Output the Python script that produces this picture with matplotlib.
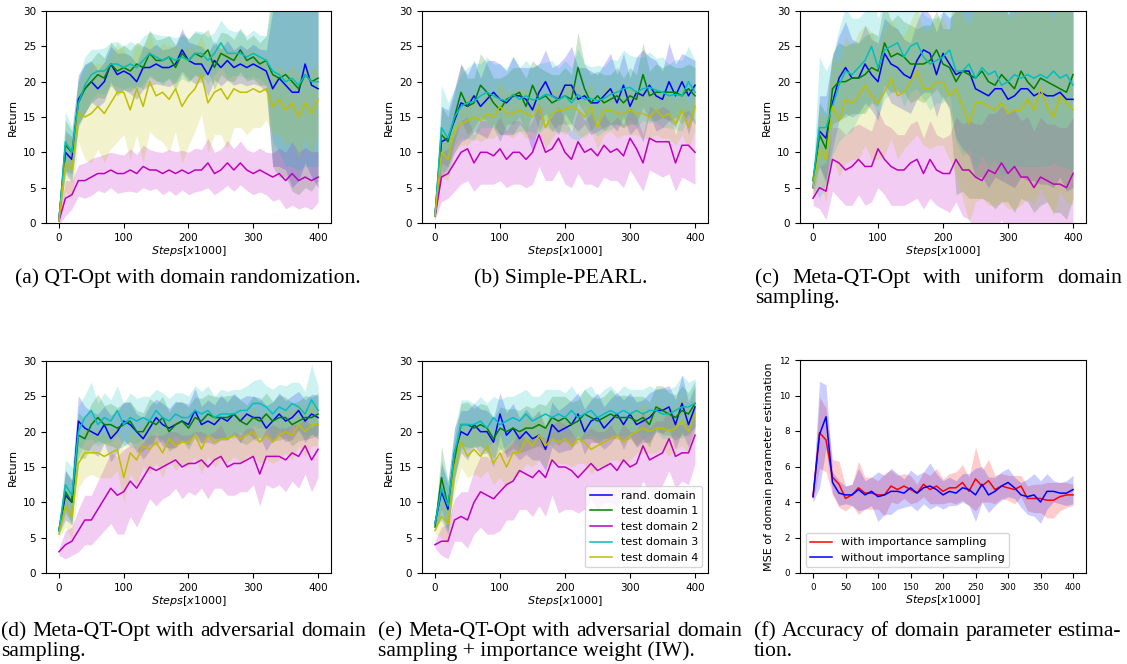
import numpy as np
import matplotlib.pyplot as plt

# x positions (steps x1000), one reading every 10k steps
steps = list(range(0, 401, 10))
labels = ['rand. domain', 'test doamin 1', 'test domain 2', 'test domain 3', 'test domain 4']
colors = ['b', 'g', 'm', 'c', 'y']

# (a) QT-Opt with domain randomization
qt_rand = [0.5, 10.0, 9.0, 17.5, 19.0, 20.0, 19.0, 20.0, 22.5, 21.0,
           21.5, 21.0, 20.0, 22.0, 22.0, 22.5, 22.0, 22.0, 22.5, 24.5,
           23.0, 22.5, 22.5, 21.0, 23.0, 22.0, 23.0, 22.0, 22.5, 22.0,
           22.5, 22.0, 21.5, 19.0, 20.5, 19.5, 18.5, 18.5, 22.5, 19.5,
           19.0]
qt_d1 = [0.3, 11.0, 10.0, 17.0, 19.0, 20.0, 21.0, 20.5, 22.5, 21.5,
         22.0, 21.5, 22.5, 22.0, 24.0, 23.0, 23.0, 23.5, 22.0, 24.0,
         23.0, 24.0, 23.5, 24.5, 22.0, 24.0, 23.5, 23.0, 24.5, 23.0,
         23.5, 22.5, 23.0, 21.0, 20.5, 21.0, 20.0, 19.0, 21.0, 20.0,
         20.5]
qt_d2 = [0.3, 3.5, 4.0, 6.0, 6.0, 6.5, 7.0, 7.0, 7.5, 7.0,
         7.0, 7.5, 7.0, 8.0, 7.5, 7.5, 7.0, 7.5, 7.0, 7.5,
         7.0, 7.5, 7.5, 8.5, 7.0, 7.5, 8.5, 7.5, 8.5, 7.5,
         7.0, 7.5, 7.0, 6.5, 7.0, 6.0, 7.0, 6.0, 6.5, 6.0,
         6.5]
qt_d3 = [0.3, 11.5, 10.0, 17.0, 19.5, 21.0, 21.5, 21.5, 22.5, 22.5,
         22.0, 22.5, 22.0, 23.0, 24.0, 23.5, 23.0, 23.5, 23.0, 23.5,
         23.0, 24.0, 24.0, 23.0, 24.0, 25.5, 24.0, 24.0, 24.0, 23.5,
         24.0, 23.5, 23.0, 21.5, 21.0, 20.0, 20.5, 19.5, 21.0, 20.0,
         20.0]
qt_d4 = [0.3, 8.5, 7.5, 15.5, 15.0, 15.5, 16.5, 15.5, 17.0, 18.5,
         18.5, 16.0, 19.0, 16.5, 20.0, 18.0, 18.5, 17.5, 19.0, 16.5,
         18.0, 19.0, 21.0, 17.0, 18.5, 19.0, 17.5, 19.0, 18.5, 18.5,
         19.0, 18.5, 19.0, 16.5, 17.5, 16.0, 17.0, 15.0, 17.0, 15.5,
         17.5]
qt_rand_sd = [0.5, 3.0, 3.2, 3.5, 3.4, 2.9, 2.6, 2.8, 2.5, 3.0,
              2.6, 2.7, 2.5, 3.1, 2.6, 2.8, 2.5, 2.7, 2.6, 3.0,
              2.6, 2.8, 2.5, 3.0, 2.7, 2.6, 2.8, 2.5, 2.7, 2.6,
              2.8, 2.6, 3.0, 11.0, 12.5, 12.0, 13.5, 12.5, 14.0, 13.0,
              14.0]
qt_d1_sd = [0.5, 3.6, 3.0, 3.2, 3.5, 3.0, 3.2, 2.9, 3.1, 3.0,
            3.2, 2.9, 3.1, 3.0, 3.3, 2.9, 3.1, 3.0, 3.2, 2.9,
            3.1, 3.0, 3.2, 2.9, 3.1, 3.0, 3.3, 3.0, 3.1, 2.9,
            3.1, 3.0, 3.5, 13.0, 14.0, 14.5, 15.5, 15.0, 16.0, 15.5,
            14.5]
qt_d2_sd = [0.5, 2.5, 2.0, 2.2, 2.5, 2.6, 2.4, 2.7, 2.5, 2.8,
            2.6, 3.0, 2.7, 3.0, 2.9, 2.6, 3.0, 2.9, 3.1, 2.8,
            3.0, 3.1, 2.9, 3.5, 3.0, 2.9, 3.2, 3.0, 3.1, 2.9,
            3.0, 3.1, 3.0, 3.4, 3.6, 4.0, 4.5, 4.0, 4.2, 4.1,
            3.6]
qt_d3_sd = [0.5, 4.2, 3.6, 3.5, 4.0, 3.6, 3.1, 3.3, 3.0, 3.2,
            3.0, 3.2, 3.1, 3.4, 3.0, 3.2, 3.5, 3.0, 3.2, 3.1,
            3.0, 3.2, 3.1, 3.3, 3.0, 3.2, 3.5, 3.1, 3.2, 3.0,
            3.3, 3.1, 3.5, 10.0, 11.0, 12.0, 12.5, 12.0, 13.0, 12.0,
            12.0]
qt_d4_sd = [0.5, 4.0, 4.2, 4.0, 6.0, 7.0, 6.0, 7.0, 6.5, 7.0,
            6.0, 7.0, 6.5, 8.0, 7.0, 6.0, 7.0, 7.5, 6.0, 8.0,
            7.0, 6.0, 5.5, 7.0, 6.0, 6.5, 7.0, 5.5, 5.0, 6.0,
            5.5, 5.0, 4.5, 4.0, 5.0, 5.0, 5.5, 6.0, 5.0, 6.0,
            5.0]

# (b) Simple-PEARL
pearl_rand = [1.0, 11.5, 12.0, 14.5, 17.0, 16.5, 18.0, 16.5, 17.5, 18.5,
              17.5, 17.0, 18.0, 18.0, 17.5, 16.0, 18.5, 20.0, 18.0, 17.5,
              19.5, 19.5, 17.5, 18.0, 17.0, 17.0, 18.0, 19.0, 17.0, 19.5,
              16.5, 18.5, 18.0, 19.5, 18.0, 17.5, 20.0, 18.0, 20.0, 18.0,
              19.5]
pearl_d1 = [1.0, 12.5, 11.5, 15.0, 18.5, 16.5, 17.0, 19.5, 18.5, 17.0,
            16.0, 17.5, 18.0, 18.5, 16.5, 19.5, 17.5, 18.0, 17.0, 17.5,
            18.0, 17.5, 22.0, 19.0, 17.0, 18.0, 17.0, 17.5, 18.0, 17.0,
            18.0, 17.5, 21.0, 18.0, 18.5, 18.5, 18.5, 18.5, 18.0, 19.0,
            18.0]
pearl_d2 = [1.0, 6.5, 7.0, 8.5, 10.0, 10.5, 8.5, 10.0, 10.0, 9.5,
            10.5, 9.0, 10.0, 10.0, 9.0, 10.0, 12.5, 10.0, 10.5, 12.0,
            10.0, 9.0, 11.5, 10.0, 10.5, 9.5, 11.0, 10.0, 10.5, 9.5,
            12.0, 10.5, 8.5, 12.0, 11.5, 11.5, 11.5, 8.5, 11.0, 11.0,
            10.0]
pearl_d3 = [1.0, 13.5, 12.0, 15.0, 16.5, 17.0, 17.2, 18.0, 18.5, 18.0,
            17.5, 17.3, 18.2, 17.5, 18.0, 17.4, 17.6, 18.2, 18.0, 17.4,
            18.0, 17.0, 18.2, 17.5, 17.6, 17.3, 17.6, 18.2, 18.5, 19.0,
            19.2, 18.5, 19.0, 19.2, 18.8, 18.5, 18.0, 18.2, 18.0, 20.0,
            18.5]
pearl_d4 = [1.0, 10.0, 9.0, 13.0, 14.0, 14.5, 15.0, 14.5, 15.5, 15.0,
            16.5, 15.5, 15.5, 16.0, 15.5, 15.0, 16.5, 13.5, 15.5, 16.0,
            16.0, 16.5, 16.0, 15.0, 16.5, 13.5, 16.0, 16.0, 15.5, 15.5,
            16.0, 15.5, 15.5, 15.0, 16.0, 15.0, 15.5, 14.0, 16.0, 13.5,
            16.5]
pearl_rand_sd = [0.5, 5.0, 4.0, 4.5, 5.5, 4.5, 5.0, 4.0, 5.5, 4.5,
                 5.0, 4.5, 5.5, 4.0, 4.5, 6.0, 4.0, 4.5, 4.0, 5.0,
                 4.0, 5.5, 4.5, 4.0, 4.5, 4.0, 4.5, 5.0, 4.0, 4.5,
                 4.0, 5.0, 6.5, 4.0, 5.0, 4.0, 5.5, 4.5, 4.0, 5.5,
                 3.5]
pearl_d1_sd = [0.5, 4.0, 3.5, 3.5, 4.0, 4.0, 3.5, 4.5, 4.0, 3.5,
               4.5, 3.5, 4.0, 3.5, 4.0, 3.5, 4.5, 3.5, 4.0, 3.5,
               4.0, 3.5, 5.0, 3.5, 4.0, 3.5, 4.0, 3.5, 4.0, 3.5,
               4.0, 3.5, 4.5, 3.5, 4.0, 3.5, 4.0, 3.5, 4.0, 3.5,
               4.0]
pearl_d2_sd = [0.5, 3.5, 3.5, 4.0, 4.5, 4.5, 4.0, 4.5, 4.5, 4.0,
               4.5, 4.0, 4.5, 4.5, 4.0, 4.5, 4.5, 4.0, 4.5, 4.5,
               4.5, 4.0, 4.5, 4.5, 5.0, 4.5, 4.5, 4.0, 4.5, 4.5,
               4.5, 4.5, 4.0, 4.5, 4.5, 5.0, 4.5, 4.0, 4.5, 5.0,
               4.5]
pearl_d3_sd = [0.5, 6.0, 5.0, 4.0, 4.5, 5.0, 5.5, 4.5, 5.0, 4.5,
               5.0, 4.5, 5.5, 4.5, 5.0, 4.5, 5.0, 4.5, 5.0, 4.5,
               5.0, 5.0, 6.5, 5.0, 4.5, 5.0, 4.5, 5.0, 4.5, 5.5,
               4.5, 5.0, 4.5, 5.0, 4.5, 5.0, 4.5, 5.0, 5.0, 5.0,
               4.5]
pearl_d4_sd = [0.5, 3.5, 3.0, 3.0, 3.0, 3.5, 3.0, 3.0, 3.5, 3.0,
               3.5, 3.0, 3.5, 3.0, 3.5, 3.0, 3.5, 3.0, 3.5, 3.0,
               3.5, 3.0, 3.5, 3.0, 3.5, 3.0, 3.5, 3.0, 3.5, 3.0,
               3.5, 3.0, 3.5, 3.0, 3.5, 3.0, 3.5, 3.0, 3.5, 3.0,
               3.5]

# (c) Meta-QT-Opt with uniform domain sampling
uni_rand = [5.0, 13.0, 12.0, 17.0, 20.5, 22.0, 20.5, 20.5, 22.5, 21.0,
            20.0, 24.0, 22.5, 22.0, 21.0, 20.5, 23.0, 24.5, 24.0, 21.0,
            24.0, 22.5, 21.0, 21.5, 21.5, 19.0, 18.5, 18.0, 19.0, 19.0,
            17.5, 18.0, 19.0, 19.0, 18.0, 18.5, 18.0, 18.0, 18.5, 17.5,
            17.5]
uni_d1 = [6.0, 12.5, 10.5, 19.0, 20.0, 20.0, 20.5, 20.5, 21.0, 22.0,
          21.5, 25.5, 23.5, 24.0, 23.5, 22.5, 22.5, 22.5, 23.0, 24.5,
          22.5, 22.0, 20.0, 21.5, 21.0, 20.5, 21.5, 20.0, 19.5, 21.0,
          20.0, 19.0, 21.5, 20.0, 19.0, 20.5, 20.0, 19.5, 19.0, 18.5,
          21.0]
uni_d2 = [3.5, 5.0, 4.5, 9.0, 8.5, 7.5, 8.0, 9.0, 8.0, 8.0,
          10.5, 9.0, 8.0, 7.5, 7.5, 8.5, 9.0, 7.0, 9.0, 7.5,
          7.0, 7.0, 9.0, 7.5, 7.5, 6.5, 6.0, 7.5, 7.0, 8.5,
          7.0, 8.0, 6.5, 6.5, 5.0, 6.5, 6.0, 5.5, 5.5, 5.0,
          7.0]
uni_d3 = [6.0, 13.5, 13.5, 16.5, 19.5, 21.5, 21.0, 22.0, 23.0, 25.0,
          22.0, 24.5, 25.0, 25.5, 23.5, 25.0, 25.5, 23.5, 22.5, 23.0,
          23.5, 24.5, 21.5, 21.5, 22.5, 20.5, 22.0, 21.0, 21.5, 19.5,
          20.0, 21.0, 20.5, 21.0, 20.5, 21.0, 20.5, 21.5, 20.5, 21.0,
          19.5]
uni_d4 = [5.0, 10.5, 9.0, 16.5, 14.5, 17.5, 17.0, 18.0, 19.5, 18.0,
          17.0, 18.5, 20.5, 18.0, 18.5, 20.0, 21.5, 19.0, 19.0, 20.0,
          20.0, 18.0, 19.0, 16.5, 14.0, 17.0, 17.0, 16.5, 16.0, 17.0,
          15.5, 16.0, 16.0, 17.5, 16.0, 19.0, 16.5, 15.0, 18.0, 17.0,
          16.0]
uni_rand_sd = [1.0, 5.0, 6.0, 6.5, 6.0, 6.5, 5.5, 5.0, 5.5, 5.0,
               5.5, 5.0, 5.5, 5.5, 5.0, 5.0, 5.5, 6.0, 5.5, 6.0,
               6.0, 6.5, 9.0, 11.0, 12.0, 12.5, 12.0, 13.0, 12.5, 13.0,
               12.0, 13.0, 12.5, 13.0, 12.0, 13.0, 12.5, 13.0, 12.0, 13.0,
               12.5]
uni_d1_sd = [1.0, 4.5, 5.0, 5.0, 5.5, 5.0, 5.0, 5.0, 5.5, 5.0,
             5.0, 6.0, 5.0, 5.5, 5.0, 5.5, 5.0, 5.5, 5.0, 5.5,
             5.0, 5.5, 16.0, 17.0, 17.5, 17.0, 18.0, 17.0, 17.5, 18.0,
             17.0, 17.5, 18.0, 17.0, 17.5, 18.0, 17.0, 18.0, 17.5, 18.0,
             17.5]
uni_d2_sd = [1.0, 3.0, 4.0, 4.5, 5.0, 5.0, 5.5, 5.0, 5.5, 5.0,
             5.5, 5.0, 5.5, 5.0, 5.0, 5.5, 5.5, 5.0, 5.5, 5.0,
             5.0, 5.5, 6.0, 6.5, 7.0, 7.5, 8.0, 8.0, 8.5, 8.0,
             8.5, 8.0, 8.0, 8.5, 8.0, 8.5, 8.0, 8.5, 8.0, 8.5,
             8.0]
uni_d3_sd = [1.0, 10.0, 8.0, 7.0, 8.0, 9.0, 8.0, 7.0, 7.0, 7.5,
             7.0, 7.0, 6.5, 6.5, 7.0, 6.5, 6.5, 6.0, 6.5, 6.0,
             6.5, 6.0, 10.0, 12.0, 12.0, 13.0, 12.5, 13.0, 12.5, 13.0,
             12.5, 13.0, 12.5, 13.0, 12.5, 13.0, 12.5, 13.0, 12.5, 13.0,
             12.5]
uni_d4_sd = [1.0, 5.0, 6.0, 7.0, 8.0, 9.0, 8.0, 9.0, 8.5, 9.0,
             8.0, 9.0, 8.5, 9.0, 8.0, 8.5, 9.0, 8.0, 8.5, 9.0,
             9.0, 9.0, 12.0, 13.0, 14.0, 14.0, 13.5, 14.0, 13.5, 14.0,
             13.5, 14.0, 13.5, 14.0, 13.5, 14.0, 13.5, 14.0, 13.5, 14.0,
             13.5]

# (d) Meta-QT-Opt with adversarial domain sampling
adv_rand = [6.0, 11.0, 10.0, 21.5, 20.5, 20.0, 19.5, 21.0, 19.0, 20.0,
            21.5, 21.0, 20.0, 19.0, 20.5, 22.0, 21.0, 20.5, 21.0, 21.5,
            21.0, 23.0, 21.0, 21.5, 21.0, 22.0, 21.5, 22.5, 21.5, 22.5,
            22.0, 22.0, 20.5, 21.5, 22.5, 21.5, 22.0, 23.0, 21.5, 22.5,
            22.0]
adv_d1 = [6.0, 11.5, 10.0, 19.5, 19.0, 21.0, 22.0, 21.0, 21.0, 20.5,
          21.0, 21.5, 20.0, 20.0, 21.5, 21.0, 22.0, 20.0, 21.0, 21.5,
          20.5, 22.0, 21.5, 22.5, 22.0, 22.0, 22.0, 22.5, 21.5, 21.0,
          22.0, 21.5, 22.5, 21.5, 22.0, 22.0, 21.0, 21.5, 22.0, 22.0,
          22.5]
adv_d2 = [3.0, 4.0, 4.5, 6.0, 7.5, 7.5, 9.0, 10.5, 12.0, 11.0,
          11.5, 13.0, 12.0, 13.5, 15.0, 14.5, 15.0, 15.5, 16.0, 15.0,
          15.5, 15.5, 16.0, 15.0, 16.0, 16.5, 15.0, 15.5, 15.5, 16.0,
          16.5, 14.0, 16.5, 16.5, 16.5, 16.0, 17.0, 16.5, 18.0, 16.0,
          17.5]
adv_d3 = [6.0, 12.5, 11.0, 20.0, 22.0, 23.0, 21.0, 22.0, 21.5, 23.0,
          21.0, 22.0, 21.5, 22.0, 21.5, 23.0, 22.0, 21.5, 22.5, 22.0,
          22.0, 23.0, 22.5, 23.0, 22.0, 22.5, 22.5, 22.5, 23.0, 23.0,
          24.0, 24.0, 23.5, 22.5, 23.5, 23.0, 24.0, 23.5, 22.5, 24.5,
          23.0]
adv_d4 = [5.5, 9.5, 8.0, 15.5, 17.0, 17.0, 17.0, 16.5, 17.0, 17.5,
          13.5, 17.0, 16.0, 18.0, 17.5, 18.5, 17.0, 19.0, 18.0, 18.5,
          18.5, 19.5, 17.5, 19.5, 18.5, 19.0, 19.0, 19.5, 19.0, 19.5,
          20.0, 18.5, 19.5, 18.5, 19.5, 20.0, 19.5, 21.0, 20.0, 21.0,
          21.0]
adv_rand_sd = [0.5, 3.5, 3.2, 3.6, 3.1, 2.8, 3.0, 2.6, 3.3, 2.9,
               2.7, 3.1, 2.5, 2.9, 3.2, 2.6, 3.0, 2.8, 3.3, 2.7,
               2.9, 3.1, 2.6, 3.0, 2.8, 3.2, 2.7, 2.9, 3.1, 2.6,
               3.0, 2.8, 3.2, 2.7, 3.0, 2.9, 3.1, 2.7, 3.0, 2.8,
               3.1]
adv_d1_sd = [0.5, 3.0, 3.0, 3.2, 2.8, 3.0, 3.3, 2.7, 3.0, 2.9,
             3.1, 2.8, 3.0, 2.7, 3.2, 2.9, 3.0, 2.8, 3.1, 2.7,
             3.0, 2.9, 3.2, 2.8, 3.0, 2.9, 3.1, 2.7, 3.0, 2.8,
             3.1, 2.9, 3.0, 2.8, 3.2, 2.9, 3.0, 2.8, 3.1, 2.9,
             3.0]
adv_d2_sd = [0.5, 2.0, 2.0, 3.0, 3.5, 3.5, 4.0, 4.5, 5.0, 5.5,
             6.0, 5.0, 5.5, 5.0, 4.5, 5.0, 4.5, 4.5, 4.0, 4.5,
             4.0, 4.5, 4.0, 4.5, 4.0, 4.5, 4.0, 4.5, 4.0, 4.5,
             4.0, 4.5, 4.0, 4.5, 4.0, 4.5, 4.0, 4.5, 4.0, 4.5,
             4.0]
adv_d3_sd = [0.5, 3.5, 4.0, 3.5, 3.2, 4.0, 3.0, 3.5, 3.0, 3.5,
             3.0, 3.5, 3.2, 3.0, 3.5, 3.0, 3.5, 3.2, 3.0, 3.5,
             3.0, 3.5, 3.2, 3.5, 3.0, 3.5, 3.2, 3.5, 3.0, 3.5,
             3.2, 3.5, 3.0, 3.5, 3.2, 3.5, 3.0, 3.5, 3.2, 5.0,
             3.5]
adv_d4_sd = [0.5, 3.0, 3.0, 3.5, 3.5, 3.0, 3.5, 3.0, 3.5, 3.0,
             3.5, 3.0, 3.5, 3.0, 3.5, 3.0, 3.5, 3.0, 3.5, 3.0,
             3.5, 3.0, 3.5, 3.0, 3.5, 3.0, 3.5, 3.0, 3.5, 3.0,
             3.5, 3.0, 3.5, 3.0, 3.5, 3.0, 3.5, 3.0, 3.5, 3.0,
             3.0]

# (e) adversarial domain sampling + importance weight
iw_rand = [7.0, 11.5, 9.0, 17.0, 20.0, 19.5, 21.0, 20.0, 20.0, 18.5,
           22.5, 19.5, 20.5, 19.0, 20.0, 19.0, 19.5, 17.5, 21.0, 20.0,
           20.5, 21.0, 22.5, 20.0, 21.5, 22.0, 20.5, 21.5, 22.5, 21.0,
           22.5, 21.0, 21.5, 22.0, 23.0, 23.0, 23.5, 21.0, 24.0, 21.0,
           23.5]
iw_d1 = [6.5, 13.5, 9.5, 16.0, 21.0, 21.0, 20.5, 21.0, 20.5, 19.0,
         20.5, 20.0, 20.5, 20.0, 20.5, 20.5, 21.0, 20.5, 22.0, 21.5,
         22.0, 21.0, 21.5, 22.5, 22.0, 21.5, 22.0, 22.5, 22.0, 22.0,
         22.0, 21.5, 22.0, 21.0, 23.5, 23.0, 22.5, 22.0, 23.0, 22.5,
         24.0]
iw_d2 = [4.0, 4.5, 4.5, 7.5, 8.0, 7.5, 10.0, 11.5, 11.0, 10.5,
         11.5, 12.5, 13.0, 14.5, 14.0, 13.5, 14.5, 13.5, 16.0, 15.0,
         15.0, 14.5, 13.5, 14.5, 15.5, 14.5, 15.0, 15.5, 14.5, 16.0,
         15.0, 15.5, 18.0, 16.0, 16.5, 17.0, 19.0, 16.5, 17.0, 17.0,
         19.5]
iw_d3 = [7.0, 12.0, 9.5, 17.0, 21.0, 21.0, 21.0, 21.5, 20.5, 22.0,
         21.0, 21.5, 22.0, 21.5, 22.5, 21.5, 22.0, 22.5, 22.0, 22.5,
         22.0, 23.0, 22.0, 22.5, 23.0, 22.0, 22.5, 23.0, 22.5, 23.0,
         22.5, 23.0, 22.5, 23.0, 23.0, 22.5, 22.5, 23.0, 23.5, 23.5,
         24.0]
iw_d4 = [6.0, 8.0, 7.0, 15.0, 18.5, 16.5, 17.5, 16.5, 18.0, 15.5,
         17.0, 15.0, 17.0, 17.0, 19.0, 18.0, 19.5, 18.0, 19.0, 18.5,
         19.0, 18.0, 19.0, 18.5, 17.5, 18.0, 18.5, 19.0, 19.5, 18.5,
         19.5, 20.0, 20.5, 20.0, 20.5, 20.5, 20.0, 20.5, 21.5, 20.0,
         22.5]
iw_rand_sd = [0.5, 4.0, 3.5, 3.5, 3.0, 3.5, 3.0, 3.2, 3.0, 3.5,
              3.0, 3.2, 3.5, 3.0, 3.2, 3.0, 3.5, 3.0, 3.2, 3.0,
              3.2, 3.5, 3.0, 3.2, 3.0, 3.5, 3.0, 3.2, 3.0, 3.5,
              3.0, 3.2, 3.0, 3.5, 3.0, 3.2, 3.0, 3.5, 4.0, 3.2,
              3.0]
iw_d1_sd = [0.5, 4.5, 3.5, 3.0, 3.0, 3.2, 2.8, 3.0, 3.2, 2.8,
            3.0, 3.2, 2.8, 3.0, 3.2, 2.8, 3.0, 3.2, 3.0, 3.5,
            3.0, 3.2, 3.0, 3.5, 3.0, 3.2, 3.0, 3.5, 3.0, 3.2,
            3.0, 3.5, 3.0, 3.2, 3.0, 3.5, 3.0, 3.2, 3.5, 3.0,
            3.2]
iw_d2_sd = [0.5, 2.0, 2.5, 3.0, 3.5, 4.0, 4.5, 5.0, 5.5, 5.0,
            5.5, 5.0, 5.5, 5.5, 5.0, 5.5, 5.0, 5.5, 5.0, 6.5,
            6.0, 5.5, 5.0, 5.5, 5.0, 5.5, 5.0, 5.5, 5.0, 5.0,
            5.0, 4.5, 5.0, 4.5, 5.0, 4.5, 4.5, 4.5, 4.0, 4.5,
            4.0]
iw_d3_sd = [0.5, 4.0, 3.5, 3.5, 3.5, 3.5, 3.0, 3.5, 3.5, 3.0,
            3.5, 3.5, 3.0, 4.0, 3.5, 3.5, 3.0, 3.5, 4.0, 3.5,
            3.5, 3.5, 3.0, 3.5, 3.5, 3.0, 3.5, 3.5, 3.0, 3.5,
            3.5, 3.0, 3.5, 3.5, 3.0, 3.5, 3.5, 3.5, 4.5, 3.5,
            3.5]
iw_d4_sd = [0.5, 3.0, 3.0, 3.5, 3.5, 3.0, 3.5, 3.0, 3.5, 3.0,
            3.5, 3.0, 3.5, 3.0, 3.5, 3.0, 3.5, 3.0, 3.5, 3.0,
            3.5, 3.0, 3.5, 3.0, 3.5, 3.0, 3.5, 3.0, 3.5, 3.0,
            3.5, 3.0, 3.5, 3.0, 3.5, 3.0, 3.5, 3.0, 3.5, 3.0,
            3.0]

# (f) accuracy of domain parameter estimation
mse_labels = ['with importance sampling', 'without importance sampling']
mse_with = [4.3, 7.9, 7.5, 5.4, 5.0, 4.2, 4.4, 4.8, 4.5, 4.5,
            4.4, 4.4, 4.9, 4.7, 4.9, 4.7, 4.5, 5.0, 4.7, 4.9,
            4.6, 4.8, 4.8, 5.1, 4.6, 5.3, 4.9, 5.2, 4.7, 4.9,
            4.8, 4.7, 4.9, 4.2, 4.2, 4.2, 4.1, 4.1, 4.3, 4.4,
            4.4]
mse_without = [4.3, 7.8, 8.8, 5.1, 4.5, 4.4, 4.4, 4.7, 4.4, 4.6,
               4.3, 4.4, 4.6, 4.6, 4.5, 4.8, 4.5, 4.8, 4.9, 4.7,
               4.4, 4.6, 4.5, 4.8, 4.7, 4.4, 5.0, 4.4, 4.6, 4.9,
               5.1, 4.8, 4.4, 4.3, 4.4, 4.0, 4.6, 4.6, 4.5, 4.5,
               4.7]
mse_with_sd = [0.3, 2.0, 1.8, 1.0, 1.3, 0.7, 0.6, 1.5, 0.9, 0.9,
               0.8, 1.2, 0.9, 0.8, 0.7, 0.8, 0.5, 0.7, 0.8, 1.0,
               0.7, 0.8, 0.9, 1.0, 0.8, 1.8, 0.9, 1.2, 0.8, 0.7,
               0.7, 0.8, 0.6, 0.7, 0.8, 0.8, 1.0, 1.0, 0.8, 0.7,
               0.6]
mse_without_sd = [0.3, 3.0, 1.8, 0.6, 0.7, 0.5, 0.6, 1.2, 0.8, 0.8,
                  1.4, 1.1, 1.3, 1.0, 0.8, 1.0, 1.0, 0.9, 1.3, 0.9,
                  0.8, 0.8, 0.7, 0.8, 0.9, 1.5, 1.0, 1.0, 0.8, 0.8,
                  0.8, 0.6, 0.7, 1.0, 1.2, 1.2, 1.0, 0.6, 0.6, 0.7,
                  0.8]

W, H = 1127, 664
SERIF = ['Liberation Serif', 'DejaVu Serif']
CAP_SIZE = 15.6


def box(l, t, r, b):
    return [l / W, 1 - b / H, (r - l) / W, (b - t) / H]


def return_panel(ax, means, sds, legend=False):
    x = np.array(steps)
    for m, s, c in zip(means, sds, colors):
        m, s = np.array(m), np.array(s)
        ax.fill_between(x, m - s, m + s, color=c, alpha=0.2, linewidth=0)
    for m, c, lab in zip(means, colors, labels):
        ax.plot(x, m, color=c, linewidth=1.1, label=lab)
    ax.set_ylim(0, 30)
    ax.set_xlim(-20, 420)
    ax.set_xticks([0, 100, 200, 300, 400])
    ax.set_yticks([0, 5, 10, 15, 20, 25, 30])
    ax.tick_params(labelsize=7.5)
    ax.set_ylabel('Return', fontsize=8)
    ax.set_xlabel('$Steps[x1000]$', fontsize=8, labelpad=1)
    if legend:
        ax.legend(loc='lower right', fontsize=8)


def caption(fig, lines, x0, x1, y, justify):
    renderer = fig.canvas.get_renderer()
    for i, line in enumerate(lines):
        yy = 1 - (y + i * 20) / H
        if justify and i == 0:
            words = line.split()
            texts = [fig.text(0, yy, w, fontsize=CAP_SIZE, family=SERIF, va='baseline')
                     for w in words]
            widths = [t.get_window_extent(renderer).width for t in texts]
            gap = (x1 - x0 - sum(widths)) / (len(words) - 1)
            x = x0
            for t, w in zip(texts, widths):
                t.set_x(x / W)
                x += w + gap
        else:
            fig.text(x0 / W, yy, line, fontsize=CAP_SIZE, family=SERIF, va='baseline')


fig = plt.figure(figsize=(W / 100, H / 100), dpi=100)

ax_a = fig.add_axes(box(46, 11, 331, 223))
return_panel(ax_a, [qt_rand, qt_d1, qt_d2, qt_d3, qt_d4],
             [qt_rand_sd, qt_d1_sd, qt_d2_sd, qt_d3_sd, qt_d4_sd])
ax_b = fig.add_axes(box(422, 11, 708, 223))
return_panel(ax_b, [pearl_rand, pearl_d1, pearl_d2, pearl_d3, pearl_d4],
             [pearl_rand_sd, pearl_d1_sd, pearl_d2_sd, pearl_d3_sd, pearl_d4_sd])
ax_c = fig.add_axes(box(800, 11, 1086, 223))
return_panel(ax_c, [uni_rand, uni_d1, uni_d2, uni_d3, uni_d4],
             [uni_rand_sd, uni_d1_sd, uni_d2_sd, uni_d3_sd, uni_d4_sd])
ax_d = fig.add_axes(box(46, 361, 331, 573))
return_panel(ax_d, [adv_rand, adv_d1, adv_d2, adv_d3, adv_d4],
             [adv_rand_sd, adv_d1_sd, adv_d2_sd, adv_d3_sd, adv_d4_sd])
ax_e = fig.add_axes(box(422, 361, 708, 573))
return_panel(ax_e, [iw_rand, iw_d1, iw_d2, iw_d3, iw_d4],
             [iw_rand_sd, iw_d1_sd, iw_d2_sd, iw_d3_sd, iw_d4_sd], legend=True)

ax_f = fig.add_axes(box(800, 360, 1086, 573))
xf = np.array(steps)
for m, s, c, lab in [(mse_with, mse_with_sd, 'r', mse_labels[0]),
                     (mse_without, mse_without_sd, 'b', mse_labels[1])]:
    m, s = np.array(m), np.array(s)
    ax_f.fill_between(xf, m - s, m + s, color=c, alpha=0.2, linewidth=0)
    ax_f.plot(xf, m, color=c, linewidth=1.1, label=lab)
ax_f.set_ylim(0, 12)
ax_f.set_xlim(-20, 420)
ax_f.set_xticks(list(range(0, 401, 50)))
ax_f.set_yticks([0, 2, 4, 6, 8, 10, 12])
ax_f.tick_params(labelsize=6.3)
ax_f.set_ylabel('MSE of domain parameter estimation', fontsize=8)
ax_f.set_xlabel('$Steps[x1000]$', fontsize=8, labelpad=1)
ax_f.legend(loc='lower left', fontsize=8)

caption(fig, ['(a) QT-Opt with domain randomization.'], 15, 358, 283, False)
caption(fig, ['(b) Simple-PEARL.'], 474, 646, 283, False)
caption(fig, ['(c) Meta-QT-Opt with uniform domain', 'sampling.'], 755, 1122, 283, True)
caption(fig, ['(d) Meta-QT-Opt with adversarial domain', 'sampling.'], 1, 366, 636, True)
caption(fig, ['(e) Meta-QT-Opt with adversarial domain',
              'sampling + importance weight (IW).'], 378, 742, 636, True)
caption(fig, ['(f) Accuracy of domain parameter estima-', 'tion.'], 754, 1121, 636, True)

fig.savefig('out.png', dpi=100)
